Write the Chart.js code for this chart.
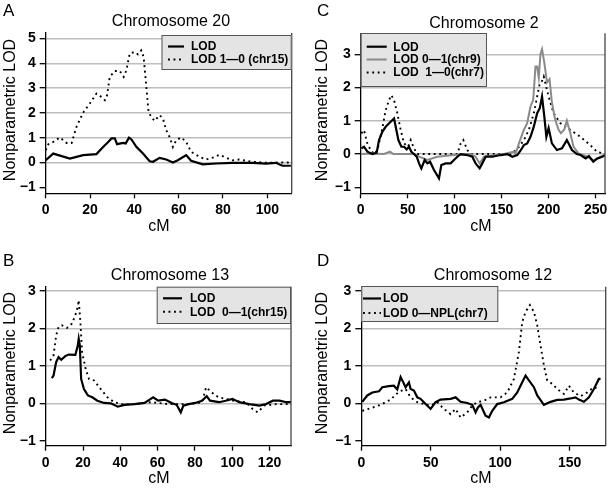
<!DOCTYPE html>
<html lang="en">
<head>
<meta charset="UTF-8">
<title>Nonparametric LOD by chromosome</title>
<style>
    body { margin: 0; background: #fff; }
    #wrap { position: relative; width: 608px; height: 489px; }
    #wrap canvas { position: absolute; }
</style>
</head>
<body>
<div id="wrap">
    <canvas id="chartA" width="304" height="245" style="left:0;top:0"></canvas>
    <canvas id="chartC" width="304" height="245" style="left:304px;top:0"></canvas>
    <canvas id="chartB" width="304" height="244" style="left:0;top:245px"></canvas>
    <canvas id="chartD" width="304" height="244" style="left:304px;top:245px"></canvas>
</div>

<script src="https://cdn.jsdelivr.net/npm/chart.js"></script>
<script>
// Chromosome 20 (panel A)
const chr20LodCm = [0, 3.4, 7.2, 10.9, 13.9, 16.9, 22.9, 25.9, 28.2, 29.7, 31.2, 32.2, 34.9, 36.1, 37.6, 38.7, 40.9, 43.9, 46.9, 48.4, 51.4, 54.4, 57.4, 59.6, 63.4, 65.6, 70.9, 76.9, 84.3, 93.3, 99.4, 103.8, 106.8, 110.6];
const chr20Lod   = [0.09, 0.36, 0.26, 0.16, 0.23, 0.30, 0.34, 0.63, 0.83, 0.97, 0.97, 0.74, 0.79, 0.77, 1.00, 0.93, 0.63, 0.36, 0.05, 0.03, 0.19, 0.12, 0.00, 0.09, 0.30, 0.07, -0.07, -0.04, -0.01, -0.01, -0.04, -0.01, -0.13, -0.13];
const chr20Lod10Cm = [0, 1.2, 3.4, 6.4, 9.4, 11.7, 13.9, 16.9, 19.9, 22.9, 25.2, 26.7, 27.7, 28.9, 31.2, 33.4, 35.2, 36.4, 37.9, 40.2, 41.6, 43.1, 44.2, 45.4, 46.4, 47.6, 49.1, 51.4, 52.9, 54.4, 55.9, 57.4, 58.9, 61.1, 63.4, 65.6, 69.4, 72.4, 75.4, 78.4, 81.3, 84.3, 87.3, 93.3, 99.4, 105.3, 109.8];
const chr20Lod10   = [0.50, 0.74, 0.83, 1.01, 0.79, 0.79, 1.44, 2.01, 2.38, 2.78, 2.64, 2.51, 2.71, 3.45, 3.69, 3.69, 3.45, 3.72, 4.39, 4.46, 4.36, 4.52, 4.25, 3.05, 2.04, 1.84, 1.68, 1.91, 1.77, 1.30, 1.03, 0.63, 0.90, 1.01, 0.83, 0.43, 0.23, 0.12, 0.20, 0.31, 0.20, 0.09, 0.12, 0.03, -0.01, 0.00, 0.00];

// Chromosome 2 (panel C)
const chr2LodCm = [0.7, 3.5, 7.1, 12.4, 17.0, 19.5, 23.0, 26.6, 31.9, 35.5, 40.1, 43.3, 46.1, 48.9, 51.4, 53.9, 56.7, 59.6, 62.1, 64.5, 68.1, 70.9, 73.8, 78.0, 83.3, 85.8, 90.4, 95.7, 99.3, 102.8, 106.4, 113.5, 118.8, 122.3, 126.6, 129.4, 133.0, 140.1, 148.9, 156.0, 161.3, 166.7, 170.0, 173.7, 177.2, 180.7, 184.3, 187.8, 190.6, 193.0, 195.4, 197.6, 200.0, 203.5, 208.8, 214.2, 219.4, 224.8, 230.0, 234.0, 239.4, 242.9, 247.5, 251.8, 257.1, 260];
const chr2Lod   = [0.17, 0.22, 0.07, 0.00, 0.04, 0.42, 0.67, 0.82, 0.97, 1.07, 0.42, 0.22, 0.22, 0.14, 0.22, 0.07, 0.00, -0.08, -0.28, -0.43, -0.18, -0.28, -0.23, -0.48, -0.73, -0.33, -0.28, -0.28, -0.18, -0.08, 0.00, -0.03, -0.08, -0.28, -0.43, -0.28, -0.08, -0.08, -0.03, 0.00, -0.08, -0.03, 0.10, 0.27, 0.32, 0.52, 0.83, 1.23, 1.38, 1.73, 1.13, 0.52, 0.78, 0.32, 0.12, 0.17, 0.42, 0.12, 0.00, -0.03, -0.13, -0.06, -0.23, -0.13, -0.08, -0.04];
const chr2Lod01Cm = [0.7, 10.6, 24.8, 31.2, 34.8, 56.7, 62.1, 70.9, 81.6, 99.3, 117.0, 122.3, 126.6, 131.2, 152.5, 163.1, 164.8, 168.4, 173.7, 177.2, 180.7, 183.6, 186.0, 187.8, 189.5, 191.3, 193.0, 195.4, 198.3, 201.0, 203.5, 207.0, 210.6, 213.0, 216.6, 219.4, 223.0, 226.5, 231.8, 241.1, 248.2, 255.3, 260];
const chr2Lod01   = [0.00, 0.02, 0.00, 0.07, 0.00, 0.00, -0.08, -0.18, -0.08, -0.03, 0.00, -0.08, -0.28, -0.08, 0.00, 0.07, 0.00, 0.32, 0.73, 0.93, 1.43, 1.63, 2.63, 2.63, 2.30, 3.00, 3.15, 2.75, 2.15, 2.25, 1.55, 1.03, 0.73, 0.63, 0.73, 1.00, 0.63, 0.22, 0.02, -0.08, -0.20, -0.08, -0.01];
const chr2Lod10Cm = [0.7, 3.5, 7.1, 10.6, 14.2, 17.7, 22.0, 26.6, 30.1, 32.6, 35.5, 39.0, 42.6, 46.1, 50.4, 53.2, 56.7, 60.3, 102.8, 106.4, 109.2, 113.5, 117.0, 159.6, 166.7, 173.7, 179.0, 184.3, 187.8, 190.6, 193.0, 194.8, 197.6, 200.0, 205.3, 212.4, 223.0, 233.6, 244.3, 251.4, 260];
const chr2Lod10   = [0.62, 0.72, 0.32, 0.12, 0.00, 0.12, 0.62, 1.32, 1.62, 1.77, 1.62, 1.22, 0.72, 0.32, 0.22, 0.42, 0.17, 0.00, 0.00, 0.32, 0.42, 0.12, 0.00, 0.00, 0.15, 0.42, 0.73, 1.23, 1.73, 2.13, 2.20, 2.33, 2.00, 1.73, 1.23, 0.93, 0.73, 0.52, 0.27, 0.07, 0.00];

// Chromosome 13 (panel B)
const chr13LodCm = [3.3, 4.2, 5.6, 6.9, 8.3, 10.5, 12.3, 15.9, 17.2, 17.7, 18.3, 19.0, 20.5, 22.6, 25.0, 27.7, 31.3, 34.9, 38.6, 42.2, 47.6, 53.0, 55.7, 57.6, 60.3, 63.9, 67.5, 70.2, 72.4, 73.8, 76.6, 80.2, 83.8, 86.3, 88.1, 92.9, 96.5, 100.1, 103.7, 109.1, 114.6, 118.2, 121.8, 125.4, 129.0, 133.2];
const chr13Lod   = [0.67, 0.74, 1.10, 1.23, 1.16, 1.26, 1.30, 1.29, 1.54, 1.72, 1.54, 0.65, 0.38, 0.21, 0.16, 0.07, 0.01, 0.00, -0.09, -0.04, -0.02, 0.01, 0.10, 0.16, 0.07, 0.10, 0.01, -0.04, -0.24, -0.06, -0.02, 0.01, 0.07, 0.19, 0.07, 0.03, 0.07, 0.12, 0.03, -0.02, -0.06, -0.02, 0.07, 0.07, 0.03, 0.03];
const chr13Lod01Cm = [2.4, 4.2, 5.6, 6.9, 8.7, 11.4, 14.1, 15.9, 17.2, 17.7, 18.6, 19.5, 21.4, 23.2, 25.9, 29.5, 33.1, 36.7, 40.4, 47.6, 56.7, 62.1, 65.7, 76.6, 83.8, 86.0, 89.0, 92.7, 96.3, 100.9, 107.3, 110.9, 113.6, 117.2, 123.6, 129.0, 133.2];
const chr13Lod01   = [1.14, 1.28, 1.81, 2.04, 2.08, 2.01, 2.13, 2.35, 2.57, 2.75, 2.17, 1.37, 0.92, 0.65, 0.61, 0.38, 0.16, 0.03, -0.02, -0.02, 0.03, 0.00, -0.02, -0.02, 0.03, 0.43, 0.29, 0.16, 0.12, 0.07, 0.03, -0.15, -0.24, -0.06, -0.02, -0.02, 0.00];

// Chromosome 12 (panel D)
const chr12LodCm = [0.7, 4.3, 7.9, 12.7, 15.1, 19.9, 23.5, 25.9, 28.3, 30.2, 31.9, 34.3, 35.5, 37.9, 40.3, 42.7, 46.3, 49.9, 53.5, 57.1, 64.3, 67.9, 71.5, 76.3, 79.9, 82.3, 84.0, 85.9, 89.5, 91.9, 94.3, 97.9, 102.7, 108.7, 112.3, 115.9, 118.3, 120.7, 124.3, 126.7, 131.5, 136.3, 141.1, 145.9, 150.7, 154.3, 156.7, 160.3, 163.9, 167.5, 171.1, 172.3];
const chr12Lod   = [0.04, 0.21, 0.29, 0.32, 0.43, 0.46, 0.47, 0.37, 0.70, 0.56, 0.43, 0.56, 0.38, 0.34, 0.16, 0.12, -0.02, -0.15, 0.03, 0.10, 0.12, 0.16, 0.04, 0.01, -0.04, -0.24, -0.11, -0.04, -0.33, -0.38, -0.20, -0.02, 0.03, 0.12, 0.29, 0.56, 0.74, 0.61, 0.43, 0.21, -0.04, 0.04, 0.09, 0.10, 0.13, 0.16, 0.10, 0.04, 0.16, 0.38, 0.65, 0.65];
const chr12NplCm = [0.7, 6.7, 13.9, 21.1, 27.1, 31.9, 35.5, 40.3, 45.1, 49.9, 54.7, 59.5, 64.3, 67.9, 71.5, 76.3, 79.9, 83.5, 88.3, 93.1, 100.3, 105.1, 109.9, 113.5, 115.9, 118.3, 121.4, 124.3, 126.7, 129.1, 131.5, 133.9, 137.5, 141.1, 145.9, 149.5, 153.1, 157.9, 162.7, 167.5, 171.1];
const chr12Npl   = [-0.20, -0.13, -0.04, 0.10, 0.31, 0.38, 0.16, 0.03, -0.02, -0.06, 0.03, -0.15, -0.29, -0.15, -0.38, -0.24, -0.06, 0.03, 0.07, 0.16, 0.16, 0.29, 0.65, 1.37, 2.17, 2.44, 2.62, 2.44, 2.08, 1.54, 1.01, 0.61, 0.52, 0.38, 0.25, 0.47, 0.29, 0.19, 0.29, 0.43, 0.38];

const panelTitles = ['Chromosome 20', 'Chromosome 2', 'Chromosome 13', 'Chromosome 12'];
const panelLetters = ['A', 'C', 'B', 'D'];

const FONT = '"Liberation Sans", Arial, Helvetica, sans-serif';

// letters, titles, axis titles, right border and boxed legends
const panelDeco = {
    id: 'panelDeco',
    afterDraw(chart, args, o) {
        const ctx = chart.ctx;
        const a = chart.chartArea;
        ctx.save();
        ctx.strokeStyle = '#444';
        ctx.lineWidth = 1.3;
        ctx.beginPath();
        ctx.moveTo(a.right, a.top);
        ctx.lineTo(a.right, a.bottom);
        ctx.stroke();

        ctx.fillStyle = '#000';
        ctx.textBaseline = 'middle';
        ctx.font = '17px ' + FONT;
        ctx.textAlign = 'left';
        ctx.fillText(o.letter, o.letterX, o.letterY);

        ctx.font = '16px ' + FONT;
        ctx.textAlign = 'center';
        ctx.fillText(o.title, o.titleX, o.titleY);
        ctx.fillText('cM', o.xTitleX, o.xTitleY);

        ctx.save();
        ctx.translate(o.yTitleX, o.yTitleY);
        ctx.rotate(-Math.PI / 2);
        ctx.fillText('Nonparametric LOD', 0, 0);
        ctx.restore();

        // legend box
        const L = o.legend;
        ctx.fillStyle = '#e4e4e4';
        ctx.fillRect(L.x, L.y, L.w, L.h);
        ctx.strokeStyle = '#555';
        ctx.lineWidth = 1;
        ctx.strokeRect(L.x + 0.5, L.y + 0.5, L.w - 1, L.h - 1);
        ctx.font = 'bold 12px ' + FONT;
        ctx.textAlign = 'left';
        chart.data.datasets.forEach((ds, i) => {
            const ry = L.rows[i];
            ctx.strokeStyle = ds.borderColor;
            ctx.lineWidth = ds.borderWidth;
            ctx.setLineDash(ds.borderDash || []);
            ctx.beginPath();
            ctx.moveTo(L.sx0, ry);
            ctx.lineTo(L.sx1, ry);
            ctx.stroke();
            ctx.setLineDash([]);
            ctx.fillStyle = '#000';
            ctx.fillText(ds.label, L.tx, ry + 0.5);
        });
        ctx.restore();
    }
};

const solid = { color: '#000', width: 2.2, dash: [] };
const grey = { color: '#8a8a8a', width: 2, dash: [] };
const dotted = { color: '#000', width: 1.9, dash: [1.9, 3.6] };

function makePanel(id, p) {
    const canvas = document.getElementById(id);
    const H = canvas.height;
    return new Chart(canvas, {
        type: 'line',
        data: {
            datasets: p.series.map(s => ({
                label: s.label,
                data: s.cm.map((x, i) => ({ x: x, y: s.lod[i] })),
                borderColor: s.style.color,
                borderWidth: s.style.width,
                borderDash: s.style.dash,
                pointRadius: 0,
                tension: 0,
                fill: false
            }))
        },
        options: {
            responsive: false,
            animation: false,
            devicePixelRatio: 1,
            layout: { padding: { left: 0, top: p.top, right: canvas.width - p.right, bottom: 0 } },
            plugins: {
                legend: { display: false },
                tooltip: { enabled: false },
                panelDeco: p.deco
            },
            scales: {
                x: {
                    type: 'linear',
                    min: 0,
                    max: p.xMax,
                    ticks: {
                        stepSize: p.xStep,
                        includeBounds: false,
                        autoSkip: false,
                        maxRotation: 0,
                        padding: p.xPad,
                        color: '#000',
                        font: { family: FONT, size: 14, weight: 'bold' }
                    },
                    grid: { drawOnChartArea: false, tickLength: 5, tickColor: '#000', tickWidth: 1.3 },
                    border: { color: '#000', width: 1.3 },
                    afterFit(s) { s.height = H - p.bottom; s.paddingLeft = 0; s.paddingRight = 0; }
                },
                y: {
                    min: p.yMin,
                    max: p.yMax,
                    ticks: {
                        stepSize: 1,
                        includeBounds: false,
                        padding: 4,
                        color: '#000',
                        font: { family: FONT, size: 14, weight: 'bold' },
                        callback: v => String(v).replace('-', '\u2212')
                    },
                    grid: {
                        color: c => (c.tick && c.tick.value === -1) ? 'rgba(0,0,0,0)' : '#bdbdbd',
                        lineWidth: 1.4,
                        tickLength: 6,
                        tickColor: '#000',
                        tickWidth: 1.3
                    },
                    border: { color: '#000', width: 1.3 },
                    afterFit(s) { s.width = p.left; s.paddingTop = 0; s.paddingBottom = 0; }
                }
            }
        },
        plugins: [panelDeco]
    });
}

makePanel('chartA', {
    left: 45.7, right: 291.7, top: 33, bottom: 193.3, xPad: 3,
    xMax: 111, xStep: 20, yMin: -1.24, yMax: 5.22,
    series: [
        { label: 'LOD', cm: chr20LodCm, lod: chr20Lod, style: solid },
        { label: 'LOD 1\u20140 (chr15)', cm: chr20Lod10Cm, lod: chr20Lod10, style: dotted }
    ],
    deco: {
        letter: panelLetters[0], letterX: 3, letterY: 11,
        title: panelTitles[0], titleX: 171, titleY: 22,
        xTitleX: 159, xTitleY: 226.5, yTitleX: 11, yTitleY: 110,
        legend: { x: 161.5, y: 35, w: 130.2, h: 35, rows: [46.5, 59.5], sx0: 168, sx1: 184, tx: 191 }
    }
});

makePanel('chartC', {
    left: 56.7, right: 301, top: 33.3, bottom: 193.3, xPad: 3,
    xMax: 260, xStep: 50, yMin: -1.18, yMax: 3.63,
    series: [
        { label: 'LOD', cm: chr2LodCm, lod: chr2Lod, style: solid },
        { label: 'LOD 0\u20141(chr9)', cm: chr2Lod01Cm, lod: chr2Lod01, style: grey },
        { label: 'LOD  1\u20140(chr7)', cm: chr2Lod10Cm, lod: chr2Lod10, style: dotted }
    ],
    deco: {
        letter: panelLetters[1], letterX: 13, letterY: 11,
        title: panelTitles[1], titleX: 180, titleY: 23.5,
        xTitleX: 177, xTitleY: 226.5, yTitleX: 19, yTitleY: 110,
        legend: { x: 56.7, y: 33, w: 126.3, h: 54, rows: [46.7, 59.5, 72.5], sx0: 62.7, sx1: 82.7, tx: 89.3 }
    }
});

makePanel('chartB', {
    left: 45.7, right: 291, top: 41.7, bottom: 200.7, xPad: 4,
    xMax: 131.5, xStep: 20, yMin: -1.13, yMax: 3.11,
    series: [
        { label: 'LOD', cm: chr13LodCm, lod: chr13Lod, style: solid },
        { label: 'LOD  0\u20141(chr15)', cm: chr13Lod01Cm, lod: chr13Lod01, style: dotted }
    ],
    deco: {
        letter: panelLetters[2], letterX: 3, letterY: 16.5,
        title: panelTitles[2], titleX: 170, titleY: 31,
        xTitleX: 159, xTitleY: 234, yTitleX: 11, yTitleY: 118,
        legend: { x: 156.7, y: 41.7, w: 134.3, h: 37.3, rows: [53.3, 66.7], sx0: 163, sx1: 182, tx: 190 }
    }
});

makePanel('chartD', {
    left: 57.3, right: 301.7, top: 41.7, bottom: 200.7, xPad: 4,
    xMax: 176, xStep: 50, yMin: -1.13, yMax: 3.11,
    series: [
        { label: 'LOD', cm: chr12LodCm, lod: chr12Lod, style: solid },
        { label: 'LOD 0\u2014NPL(chr7)', cm: chr12NplCm, lod: chr12Npl, style: dotted }
    ],
    deco: {
        letter: panelLetters[3], letterX: 13, letterY: 16.5,
        title: panelTitles[3], titleX: 189, titleY: 31,
        xTitleX: 177, xTitleY: 234, yTitleX: 19, yTitleY: 118,
        legend: { x: 57.3, y: 41, w: 137, h: 36, rows: [53.5, 68], sx0: 59, sx1: 77, tx: 79 }
    }
});
</script>
</body>
</html>
